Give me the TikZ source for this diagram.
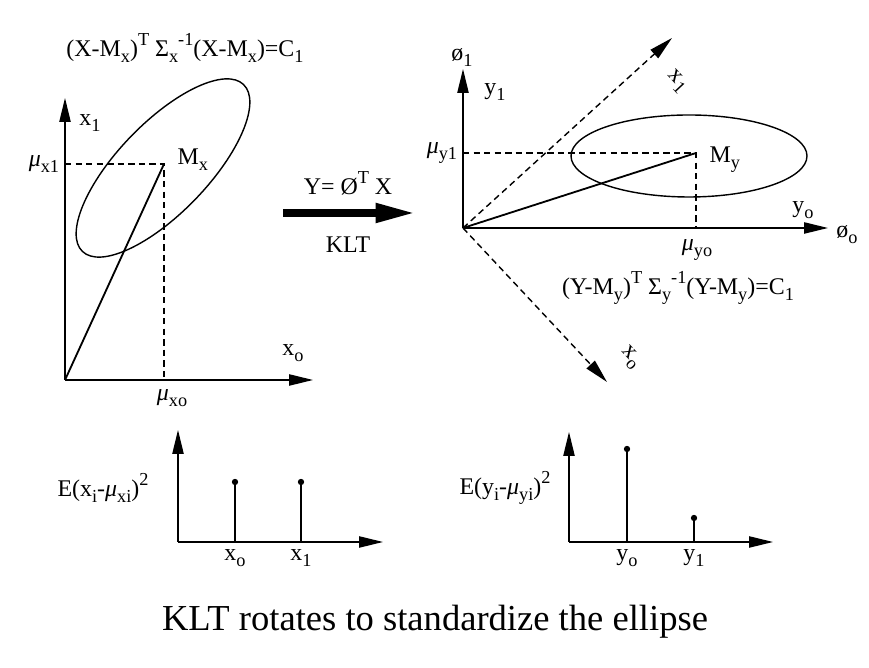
\documentclass[tikz,border=0pt]{standalone}
\usepackage{fontspec}
\setmainfont{Liberation Serif}
\usetikzlibrary{arrows.meta, positioning}
\tikzset{
  axis/.style={line width=1pt, -{Triangle[length=17pt,width=8pt]}},
  dashaxis/.style={axis, dash pattern=on 4.5pt off 3pt},
  guide/.style={line width=1pt, dash pattern=on 4.5pt off 3pt},
  vec/.style={line width=1.3pt},
  contour/.style={line width=1pt},
  stem/.style={line width=1pt},
  dot/.style={circle, fill, inner sep=0pt, minimum size=4.5pt},
  lbl/.style={font=\fontsize{17}{20}\selectfont, inner sep=1pt},
  eqn/.style={font=\fontsize{17}{20}\selectfont, inner sep=1pt},
  caption/.style={font=\fontsize{26}{30}\selectfont},
  bigarrow/.style={line width=5pt, -{Triangle[length=28pt,width=13pt]}}
}
\newcommand{\lo}[1]{\raisebox{-0.25em}{\fontsize{13}{13}\selectfont #1}}
\newcommand{\hi}[1]{\raisebox{0.45em}{\fontsize{13}{13}\selectfont #1}}
\newcommand{\mug}{\textit{μ}}

\begin{document}
\begin{tikzpicture}[x=0.025cm, y=0.025cm]
  \useasboundingbox (0,0) rectangle (869,668);

  % Original space X
  \coordinate (ox) at (65,288);
  \coordinate (ox1) at (65,570);
  \coordinate (ox0) at (313,288);
  \coordinate (mx) at (164,504);
  \draw[axis] (ox) -- (ox1);
  \draw[axis] (ox) -- (ox0);
  \draw[contour, rotate around={46:(163,500)}] (163,500) ellipse [x radius=116, y radius=45];
  \draw[guide] (ox |- mx) -- (mx) -- (mx |- ox);
  \draw[vec] (ox) -- (mx);
  \node[lbl, left=3pt] (mux1) at (ox |- mx) {\mug\lo{x1}};
  \node[lbl] (lx1) at (90,545) {x\lo{1}};
  \node[lbl, anchor=west] (lmx) at (176,508) {M\lo{x}};
  \node[lbl] (lx0) at (293,315) {x\lo{o}};
  \node[lbl] (mux0) at (172,270) {\mug\lo{xo}};
  \node[eqn] (eqx) at (185,620)
    {(X-M\lo{x})\hi{T} Σ\lo{x}\hi{-1}(X-M\lo{x})=C\lo{1}};

  % Transform
  \node[lbl] (map) at (348,485) {Y= Ø\hi{T} X};
  \node[lbl] (klt) at (348,423) {KLT};
  \coordinate (kltA) at (283,455);
  \coordinate (kltB) at (415,455);
  \draw[bigarrow] (kltA) -- (kltB);

  % Transformed space Y
  \coordinate (oy) at (463,440);
  \coordinate (oy1) at (463,599);
  \coordinate (oy0) at (828,440);
  \coordinate (xr1) at (672,630);
  \coordinate (xr0) at (607,286);
  \coordinate (my) at (696,515);
  \draw[axis] (oy) -- (oy1);
  \draw[axis] (oy) -- (oy0);
  \draw[dashaxis] (oy) -- (xr1);
  \draw[dashaxis] (oy) -- (xr0);
  \draw[contour] (689,512) ellipse [x radius=118, y radius=41];
  \draw[guide] (oy |- my) -- (my) -- (my |- oy);
  \draw[vec] (oy) -- (my);
  \node[lbl, left=3pt] (muy1) at (oy |- my) {\mug\lo{y1}};
  \node[lbl] (ly1) at (495,576) {y\lo{1}};
  \node[lbl] (phi1) at (462,610) {ø\lo{1}};
  \node[lbl, anchor=west] (lmy) at (708,508) {M\lo{y}};
  \node[lbl] (ly0) at (803,458) {y\lo{o}};
  \node[lbl] (phi0) at (847,433) {ø\lo{o}};
  \node[lbl] (muy0) at (697,418) {\mug\lo{yo}};
  \node[lbl, rotate=-47] (lxr1) at (677,586) {x\lo{1}};
  \node[lbl, rotate=-47] (lxr0) at (630,310) {x\lo{o}};
  \node[eqn] (eqy) at (678,380)
    {(Y-M\lo{y})\hi{T} Σ\lo{y}\hi{-1}(Y-M\lo{y})=C\lo{1}};

  % Variances before
  \coordinate (ex) at (178,126);
  \coordinate (ex1) at (178,238);
  \coordinate (ex0) at (383,126);
  \draw[axis] (ex) -- (ex1);
  \draw[axis] (ex) -- (ex0);
  \foreach \nm/\sx/\sy in {o/235/186, 1/301/186} {
    \node[dot] (vx\nm) at (\sx,\sy) {};
    \draw[stem] (vx\nm) -- (vx\nm |- ex);
    \node[lbl, below=4pt] at (vx\nm |- ex) {x\lo{\nm}};
  }
  \node[lbl] (varx) at (103,180) {E(x\lo{i}-\mug\lo{xi})\hi{2}};

  % Variances after
  \coordinate (ey) at (569,126);
  \coordinate (ey1) at (569,236);
  \coordinate (ey0) at (773,126);
  \draw[axis] (ey) -- (ey1);
  \draw[axis] (ey) -- (ey0);
  \foreach \nm/\sx/\sy in {o/627/219, 1/694/150} {
    \node[dot] (vy\nm) at (\sx,\sy) {};
    \draw[stem] (vy\nm) -- (vy\nm |- ey);
    \node[lbl, below=4pt] at (vy\nm |- ey) {y\lo{\nm}};
  }
  \node[lbl] (vary) at (505,180) {E(y\lo{i}-\mug\lo{yi})\hi{2}};

  \node[caption] (cap) at (435,46) {KLT rotates to standardize the ellipse};
\end{tikzpicture}
\end{document}
